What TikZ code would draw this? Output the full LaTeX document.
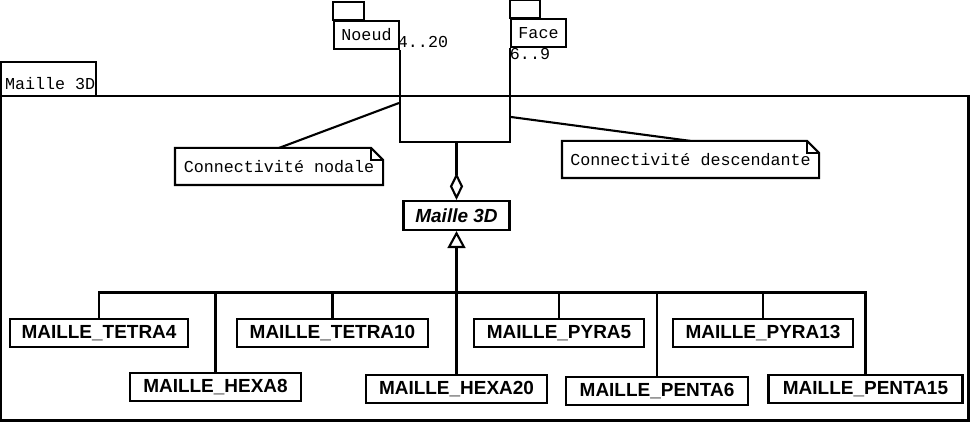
\documentclass[tikz,border=0pt]{standalone}
\usepackage{fontspec}
\setmainfont{Liberation Sans}
\newfontfamily\monofont{Liberation Mono}
\usetikzlibrary{arrows.meta}

\newlength{\px}\setlength{\px}{0.02cm}
% UML note outline with folded corner
\newcommand{\notepath}[1]{%
  \draw (#1.south west) -- (#1.north west) -- ([xshift=-12\px]#1.north east)
    -- ([yshift=-12\px]#1.north east) -- (#1.south east) -- cycle;
  \draw ([xshift=-12\px]#1.north east) |- ([yshift=-12\px]#1.north east);}

\begin{document}
\begin{tikzpicture}[x=\px, y=-\px, line width=1.2pt,
  classbox/.style={draw, minimum height=28\px, inner sep=0pt, font=\fontsize{10.8}{12}\selectfont\bfseries},
  abstractbox/.style={classbox, minimum height=29\px, font=\fontsize{10.8}{12}\selectfont\bfseries\itshape},
  pkgbox/.style={draw, minimum height=28\px, inner sep=0pt, font=\monofont\fontsize{9.5}{11}\selectfont},
  notebox/.style={minimum height=35\px, inner sep=0pt, font=\monofont\fontsize{9.5}{11}\selectfont},
  mult/.style={inner sep=0pt, font=\monofont\fontsize{9.5}{11}\selectfont}]
  \useasboundingbox (0,0) rectangle (970,422);

  % package frame
  \draw (0.5,96) rectangle (968.5,420.5);
  \draw (0.5,62) rectangle (96,96);
  \node[mult, anchor=west] (framename) at (4,84) {Maille 3D};

  % referenced packages
  \node[pkgbox, minimum width=65\px] (noeud) at (366.5,35) {Noeud};
  \draw (noeud.north west) rectangle ++(31,-18);
  \node[pkgbox, minimum width=55\px] (face) at (538.5,33) {Face};
  \draw (face.north west) rectangle ++(30,-18);

  % aggregation
  \node[abstractbox, minimum width=106\px] (maille) at (456.5,215.5) {Maille 3D};
  \coordinate (hub) at (456.5,142);
  \draw[{Diamond[open,length=15.4pt,width=7.5pt]}-] (maille.north) -- (hub);
  \draw (hub) -| (noeud.south east);
  \draw (hub) -| (face.south west);
  \node[mult] (mnoeud) at (423,42) {4..20};
  \node[mult] (mface) at (530,54) {6..9};

  % notes
  \node[notebox, minimum width=206\px] (nodale) at (279,166.5) {Connectivité nodale};
  \notepath{nodale}
  \coordinate (nodaleend) at (399,103);
  \draw (nodale.north) -- (nodaleend);
  \node[notebox, minimum width=255\px] (descendante) at (690.5,159.5) {Connectivité descendante};
  \notepath{descendante}
  \coordinate (descendanteend) at (511,117);
  \draw (descendante.north) -- (descendanteend);

  % subclasses
  \node[classbox, minimum width=178\px] (tetra4) at (99,333) {MAILLE\_TETRA4};
  \node[classbox, minimum width=191\px] (tetra10) at (332.5,333) {MAILLE\_TETRA10};
  \node[classbox, minimum width=170\px] (pyra5) at (559,333) {MAILLE\_PYRA5};
  \node[classbox, minimum width=180\px] (pyra13) at (763,333) {MAILLE\_PYRA13};
  \node[classbox, minimum width=171\px] (hexa8) at (215.5,387) {MAILLE\_HEXA8};
  \node[classbox, minimum width=181\px] (hexa20) at (456.5,389) {MAILLE\_HEXA20};
  \node[classbox, minimum width=182\px] (penta6) at (657,391) {MAILLE\_PENTA6};
  \node[classbox, minimum width=194\px] (penta15) at (865.5,389) {MAILLE\_PENTA15};

  % generalization
  \coordinate (bus) at (456.5,292.5);
  \foreach \c in {tetra4,tetra10,pyra5,pyra13,hexa8,hexa20,penta6,penta15}
    \draw (\c.north) |- (bus);
  \draw[line width=1.8pt, -{Triangle[open, line width=1.2pt, length=9.7pt, width=10.2pt]}] (bus) -- (maille.south);
\end{tikzpicture}
\end{document}
